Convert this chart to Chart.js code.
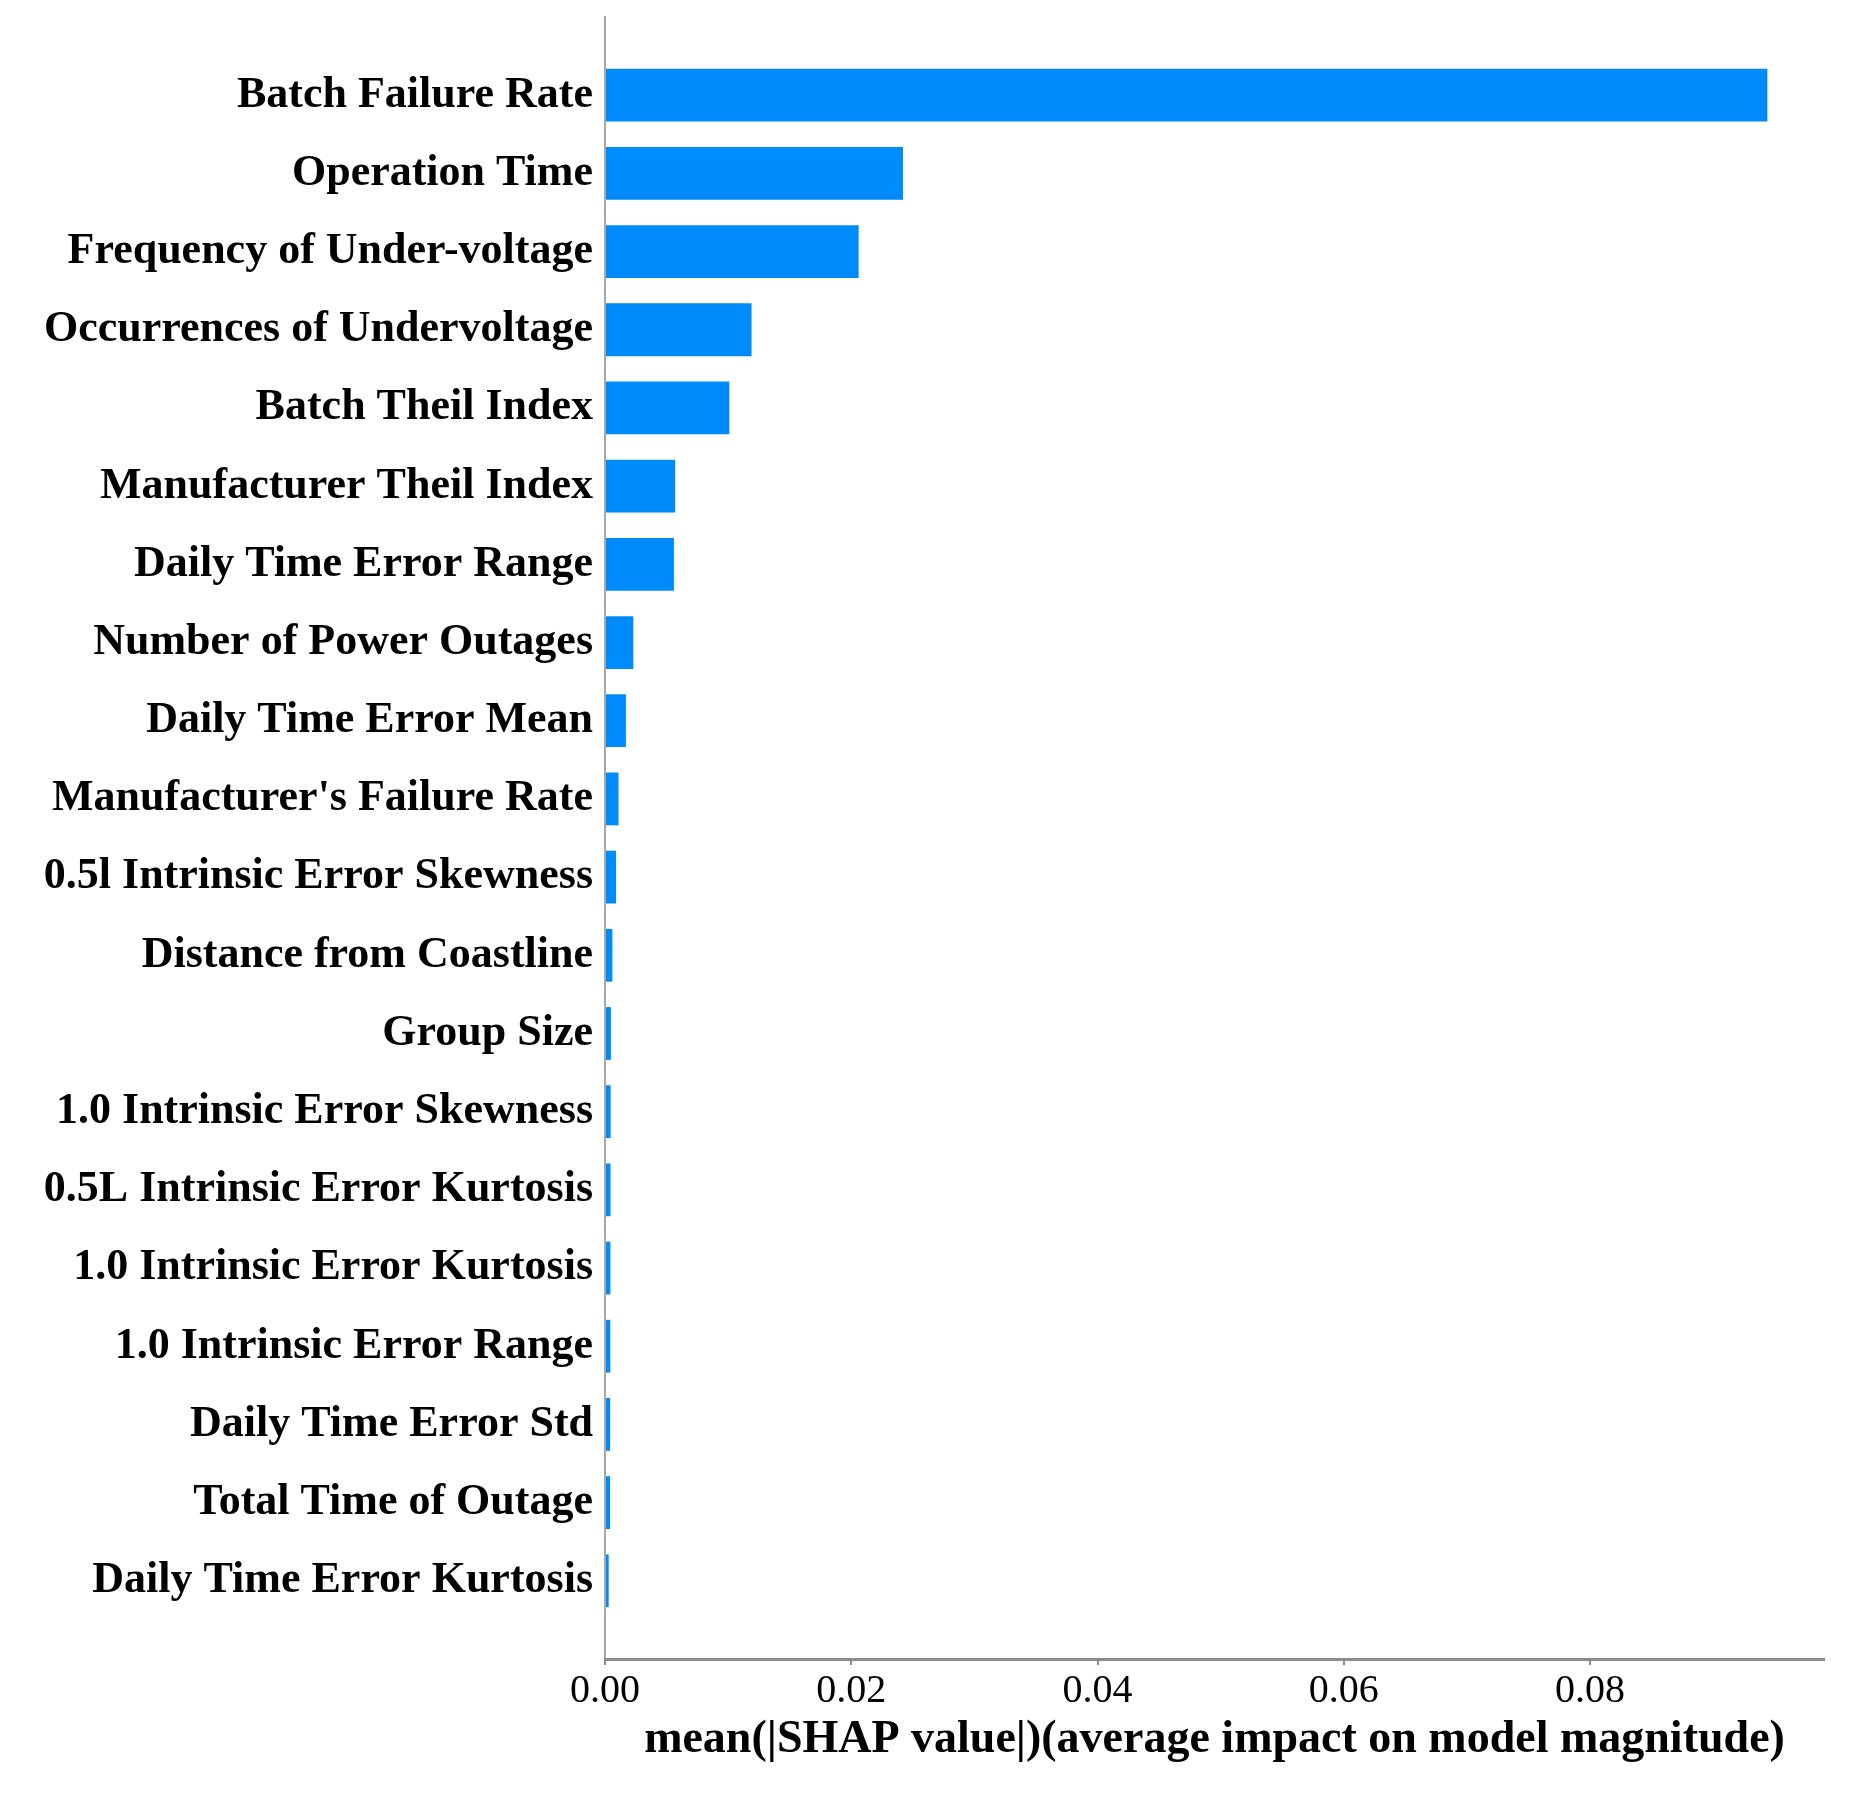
<!DOCTYPE html>
<html>
<head>
<meta charset="utf-8">
<script src="https://cdn.jsdelivr.net/npm/chart.js@4.4.1/dist/chart.umd.min.js"></script>
<style>
  html, body { margin: 0; padding: 0; background: #fff; }
  canvas { display: block; }
</style>
</head>
<body>
<canvas id="shapChart" width="1863" height="1798"></canvas>
<script>
const featureNames = [
  "Batch Failure Rate",
  "Operation Time",
  "Frequency of Under-voltage",
  "Occurrences of Undervoltage",
  "Batch Theil Index",
  "Manufacturer Theil Index",
  "Daily Time Error Range",
  "Number of Power Outages",
  "Daily Time Error Mean",
  "Manufacturer's Failure Rate",
  "0.5l Intrinsic Error Skewness",
  "Distance from Coastline",
  "Group Size",
  "1.0 Intrinsic Error Skewness",
  "0.5L Intrinsic Error Kurtosis",
  "1.0 Intrinsic Error Kurtosis",
  "1.0 Intrinsic Error Range",
  "Daily Time Error Std",
  "Total Time of Outage",
  "Daily Time Error Kurtosis"
];

const meanShap = [
  0.0944, 0.0242, 0.0206, 0.0119, 0.0101,
  0.0057, 0.0056, 0.0023, 0.0017, 0.0011,
  0.0009, 0.0006, 0.00048, 0.00046, 0.00045,
  0.00044, 0.00043, 0.00042, 0.00041, 0.0003
];

const xTitle = "mean(|SHAP value|)(average impact on model magnitude)";

document.addEventListener("DOMContentLoaded", () => {
  const canvas = document.getElementById("shapChart");
  const serif = "'Liberation Serif', 'Times New Roman', serif";

  // one point per feature, placed on a numeric y axis so the frame can run past the first and last bar
  const points = featureNames.map((name, i) => ({ x: meanShap[i], y: i }));

  new Chart(canvas, {
    type: "bar",
    data: {
      datasets: [
        {
          data: points,
          backgroundColor: "#008bfb",
          borderWidth: 0,
          categoryPercentage: 1,
          barPercentage: 0.675
        }
      ]
    },
    options: {
      indexAxis: "y",
      responsive: false,
      animation: false,
      layout: {
        padding: { top: 17, right: 39, bottom: 0, left: 0 }
      },
      plugins: {
        legend: { display: false },
        tooltip: { enabled: false }
      },
      scales: {
        y: {
          type: "linear",
          min: -1,
          max: featureNames.length,
          reverse: true,
          offset: false,
          afterFit: (scale) => {
            scale.width = 605;
            // the empty end ticks should not push the frame inwards
            scale.paddingTop = 0;
            scale.paddingBottom = 0;
          },
          grid: { display: false, drawTicks: false, offset: false },
          border: { display: true, color: "#a8a8a8", width: 2 },
          ticks: {
            stepSize: 1,
            autoSkip: false,
            padding: 12,
            color: "#000",
            font: { family: serif, size: 44, weight: "bold" },
            callback: (value) => featureNames[value] ?? null
          }
        },
        x: {
          type: "linear",
          min: 0,
          max: 0.099,
          afterFit: (scale) => { scale.height = 139; },
          grid: {
            display: true,
            drawOnChartArea: false,
            drawTicks: true,
            tickLength: 6,
            color: "#8c8c8c",
            lineWidth: 2
          },
          border: { display: true, color: "#8c8c8c", width: 3 },
          ticks: {
            stepSize: 0.02,
            includeBounds: false,
            maxRotation: 0,
            padding: 2,
            color: "#000",
            font: { family: serif, size: 40 },
            callback: (value) => value.toFixed(2)
          },
          title: {
            display: true,
            text: xTitle,
            color: "#000",
            font: { family: serif, size: 46, weight: "bold" },
            padding: { top: 0, bottom: 30 }
          }
        }
      }
    }
  });
});
</script>
</body>
</html>
